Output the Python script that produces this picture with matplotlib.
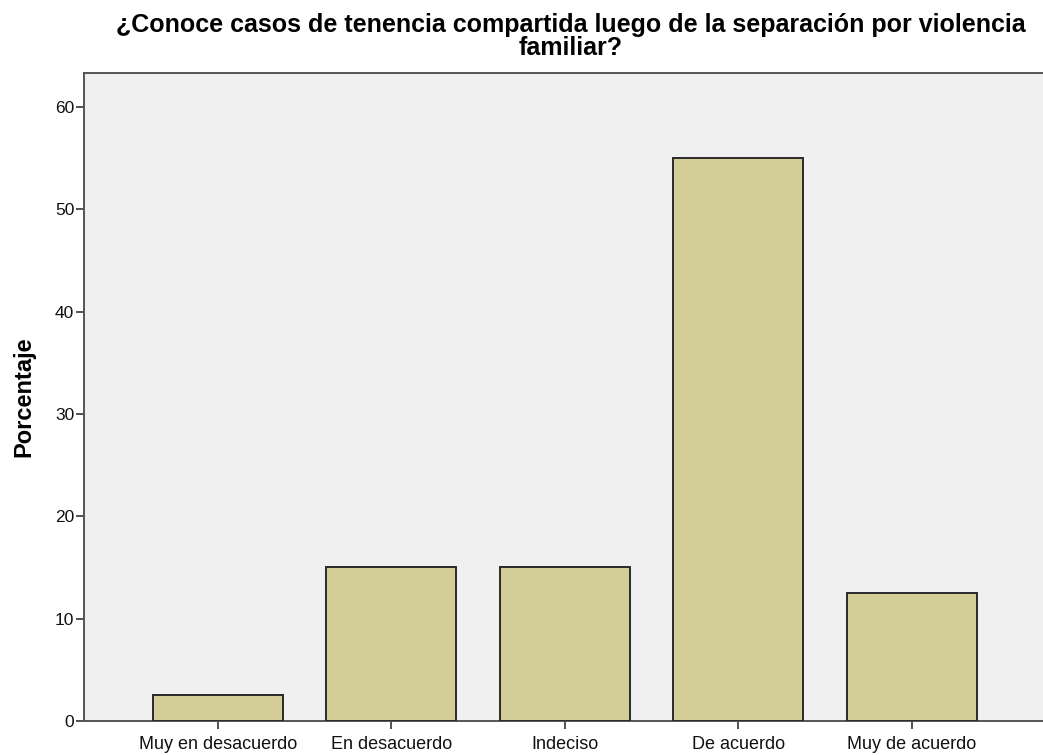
import matplotlib
matplotlib.use("Agg")
import matplotlib.pyplot as plt

categories = ["Muy en desacuerdo", "En desacuerdo", "Indeciso", "De acuerdo", "Muy de acuerdo"]
porcentajes = [2.5, 15.0, 15.0, 55.0, 12.5]
yticks = [0, 10, 20, 30, 40, 50, 60]

plt.rcParams['font.family'] = ['Liberation Sans', 'DejaVu Sans']

fig = plt.figure(figsize=(10.43, 7.55), dpi=100)
ax = fig.add_axes([0.0805, 0.045, 0.9195 + 0.002, 0.8583])
ax.set_facecolor('#f0f0f0')

x = range(len(categories))
ax.bar(x, porcentajes, width=0.75, color='#d3ce97', edgecolor='#2a2a2a', linewidth=1.4, zorder=3)

ax.set_xlim(-0.773, 4.77)
ax.set_ylim(0, 63.3)
ax.set_yticks(yticks)
ax.set_xticks(list(x))
ax.set_xticklabels(categories, fontsize=13, color='#111111')
ax.tick_params(axis='y', labelsize=12.5, labelcolor='#111111', length=6, width=1.2, color='#333333', pad=1)
ax.tick_params(axis='x', length=6, width=1.2, color='#333333', pad=5)

for s in ['left', 'top', 'bottom']:
    ax.spines[s].set_color('#555555')
    ax.spines[s].set_linewidth(1.4)
ax.spines['right'].set_visible(False)

ax.set_ylabel('Porcentaje', fontsize=17, fontweight='bold', labelpad=14)
fig.text(0.547, 0.983, '¿Conoce casos de tenencia compartida luego de la separación por violencia\nfamiliar?',
         fontsize=18, fontweight='bold', ha='center', va='top', linespacing=0.95)

fig.savefig('out.png', dpi=100)
